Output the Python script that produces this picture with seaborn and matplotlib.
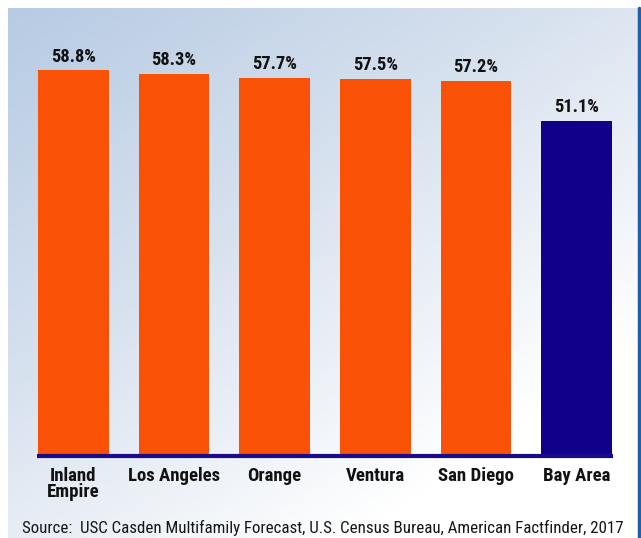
import numpy as np
import matplotlib
matplotlib.use("Agg")
import matplotlib.pyplot as plt
import seaborn as sns
from matplotlib.colors import LinearSegmentedColormap
from matplotlib.lines import Line2D

sns.set_theme(style="white")
plt.rcParams['font.family'] = ['Roboto Condensed', 'Liberation Sans', 'DejaVu Sans']

# --- data ---
regions = ['Inland\nEmpire', 'Los Angeles', 'Orange', 'Ventura', 'San Diego', 'Bay Area']
share = [58.8, 58.3, 57.7, 57.5, 57.2, 51.1]
bar_colors = ['#F95106', '#F95106', '#F95106', '#F95106', '#F95106', '#11008A']
source = "Source:  USC Casden Multifamily Forecast, U.S. Census Bureau, American Factfinder, 2017"

fig = plt.figure(figsize=(6.41, 5.38), dpi=100)

# gradient panel behind the chart
bg = fig.add_axes([8 / 641, 0, 630 / 641, 530 / 538], zorder=0)
gx, gy = np.meshgrid(np.linspace(0, 1, 300), np.linspace(0, 1, 300))
grad = np.clip((gx * 0.9 + gy * 1.1) / 1.6, 0, 1)
cmap = LinearSegmentedColormap.from_list('bgfade', ['#B7CBE3', '#D8E2EF', '#FFFFFF'])
bg.imshow(grad, cmap=cmap, aspect='auto', extent=(0, 1, 0, 1), origin='upper')
bg.set_axis_off()

# blue edge on the right
fig.add_artist(Line2D([638.5 / 641, 638.5 / 641], [0, 530 / 538], color='#1F5FA8', lw=2.5))

ax = fig.add_axes([23 / 641, 82 / 538, 604 / 641, 448 / 538], zorder=1)
ax.patch.set_alpha(0)
sns.barplot(x=regions, y=share, hue=regions, palette=bar_colors, width=0.705,
            saturation=1, legend=False, linewidth=0, ax=ax)
ax.set_xlim(-0.5, 5.5)
ax.set_ylim(0, 68.3)

for i, v in enumerate(share):
    ax.annotate(f"{v}%", (i, v), xytext=(0, 3.2), textcoords='offset points',
                ha='center', va='bottom', fontsize=13.2, fontweight='bold', color='#111111')

ax.plot([-0.36, 5.36], [0, 0], color='#1A0A8C', lw=3, solid_capstyle='butt', clip_on=False)

ax.set_yticks([])
ax.tick_params(axis='x', length=0, pad=8)
for lbl in ax.get_xticklabels():
    lbl.set_fontsize(13.5)
    lbl.set_fontweight('bold')
    lbl.set_color('#111111')
    lbl.set_linespacing(0.82)
for s in ax.spines.values():
    s.set_visible(False)

fig.text(22 / 641, 5 / 538, source, fontsize=12.2, color='#151515', ha='left', va='baseline')

fig.savefig("out.png", dpi=100)
